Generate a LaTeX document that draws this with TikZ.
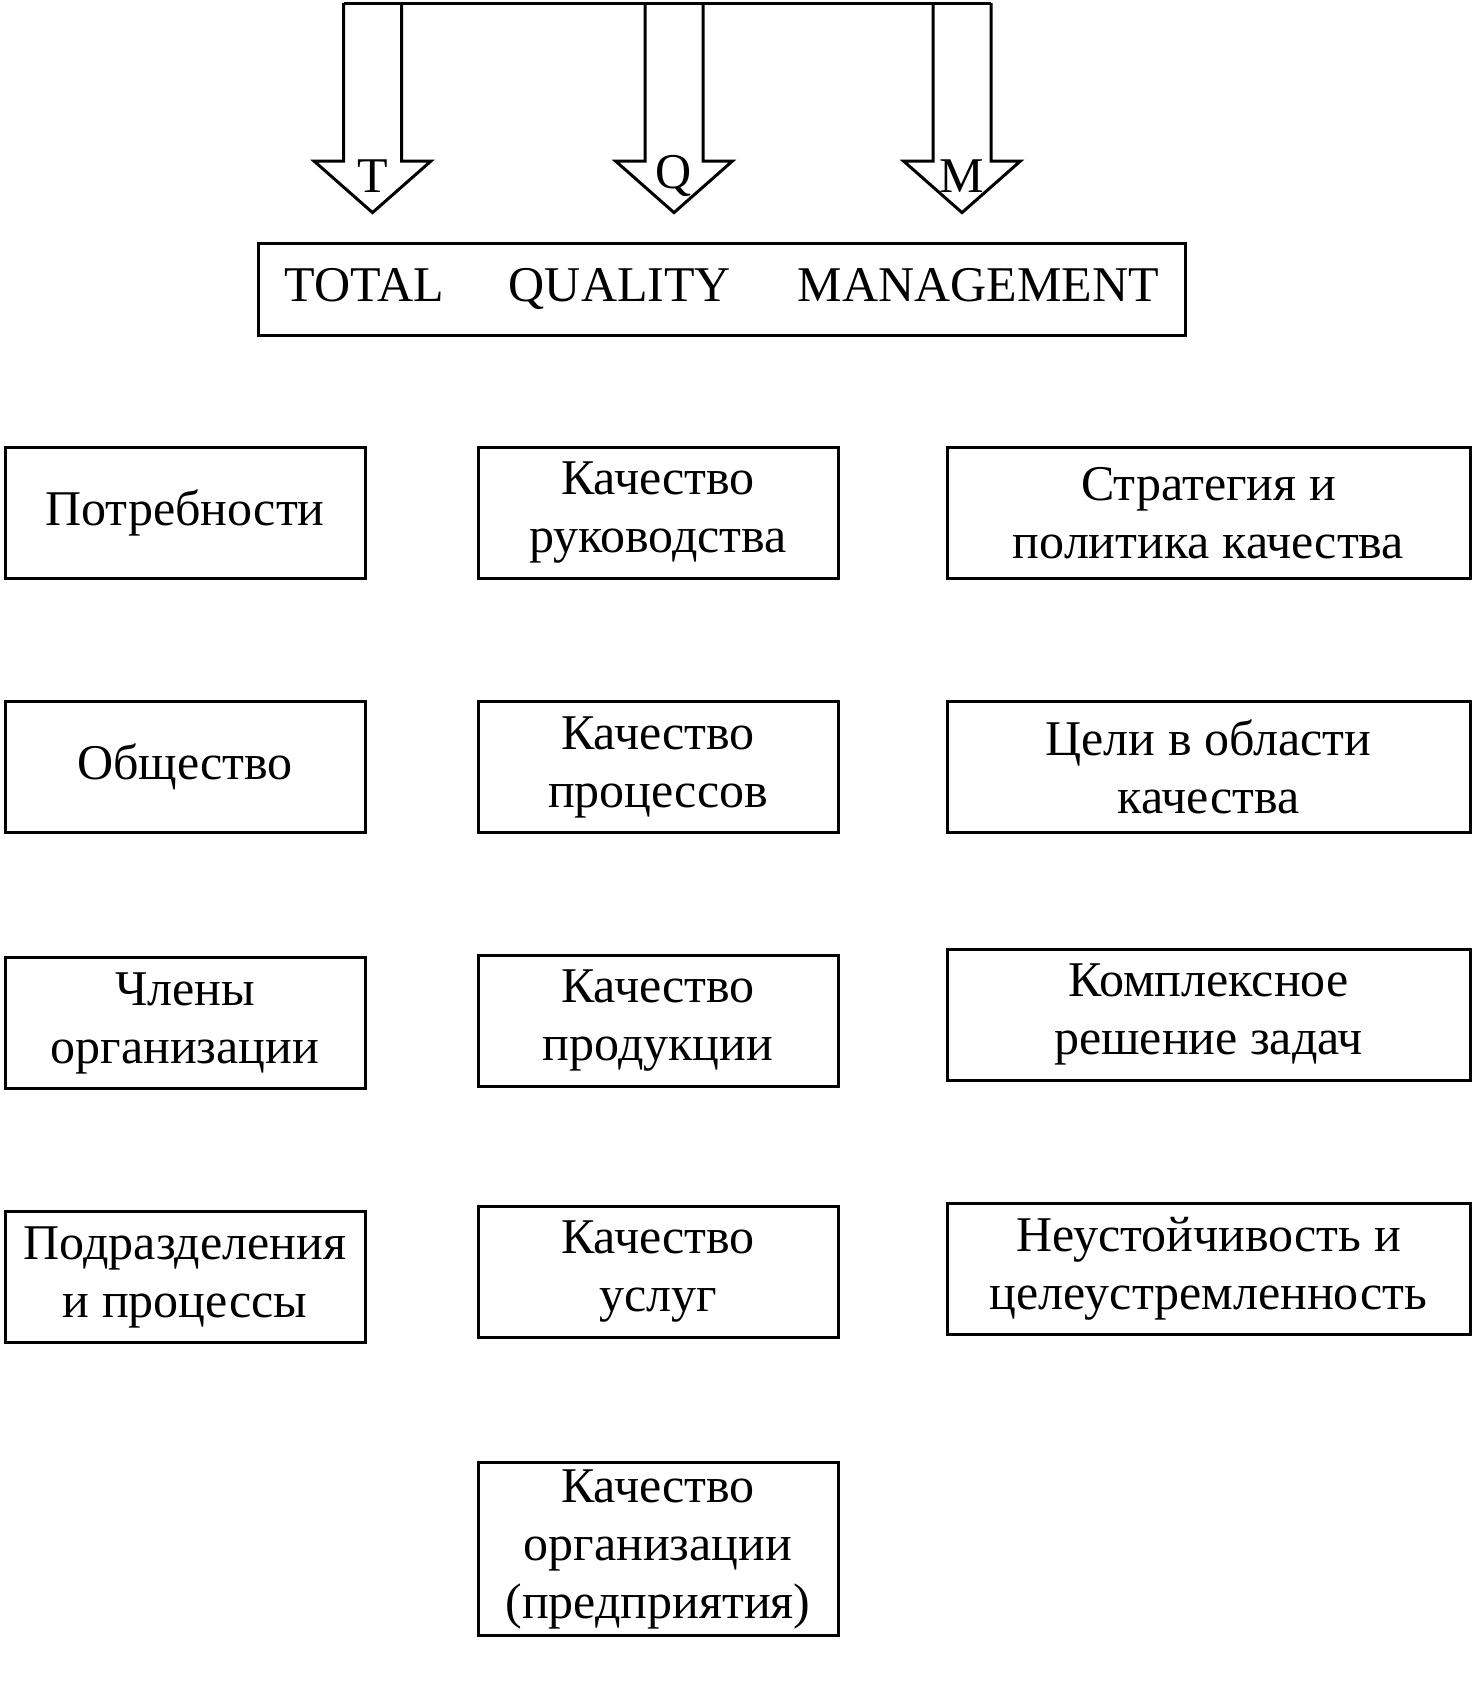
\documentclass[tikz,border=0pt]{standalone}
\usepackage{fontspec}
\setmainfont{Liberation Serif}
\begin{document}
\begin{tikzpicture}[
  x=1pt, y=-1pt,
  node distance=254pt,
  line width=3pt,
  every node/.style={
    align=center,
    inner sep=0pt,
    font=\fontsize{50pt}{58pt}\selectfont
  },
  box/.style={draw, minimum height=131pt},
  narrow/.style={box, minimum width=360pt},
  wide/.style={box, minimum width=523pt}
]
\useasboundingbox (0,0) rectangle (1473,1684);

% block arrows T, Q, M
\draw (343.5,3) -- (991,3);
\foreach \x/\l in {372.5/T, 674/Q, 962/M} {
  \draw[line join=miter] (\x-29,3) -- (\x-29,161) -- (\x-58.5,161) -- (\x,212.6)
    -- (\x+58.5,161) -- (\x+29,161) -- (\x+29,3);
  \node (letter\l) at (\x,176) {\l};
}

\node[draw, minimum width=927pt, minimum height=92pt] (tqm) at (722,289)
  {TOTAL\hspace{65pt}QUALITY\hspace{67pt}MANAGEMENT};

% left column
\node[narrow] (needs) at (185,513) {Потребности};
\node[narrow] (society) [below of=needs] {Общество};
\node[narrow] (members) [below of=society, yshift=-2pt] {Члены\\организации};
\node[narrow] (units) [below of=members] {Подразделения\\и процессы};

% middle column
\node[narrow] (leadq) at (658,513) {Качество\\руководства};
\node[narrow] (procq) [below of=leadq] {Качество\\процессов};
\node[narrow] (prodq) [below of=procq] {Качество\\продукции};
\node[narrow] (servq) [below of=prodq, yshift=3pt] {Качество\\услуг};
\node[narrow, minimum height=173pt] (orgq) [below of=servq, yshift=-23pt]
  {Качество\\организации\\(предприятия)};

% right column
\node[wide] (strategy) at (1208.5,513) {Стратегия и\\политика качества};
\node[wide] (goals) [below of=strategy] {Цели в области\\качества};
\node[wide] (complex) [below of=goals, yshift=6.5pt] {Комплексное\\решение задач};
\node[wide] (purpose) [below of=complex] {Неустойчивость и\\целеустремленность};
\end{tikzpicture}
\end{document}
